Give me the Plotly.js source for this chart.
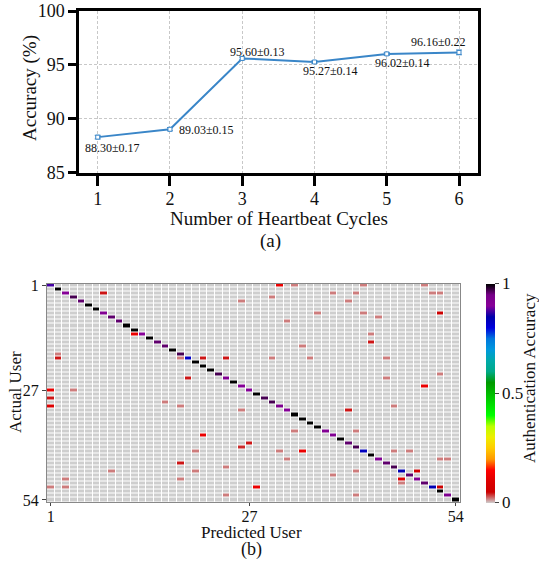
<!DOCTYPE html>
<html><head><meta charset="utf-8">
<script src="https://cdn.plot.ly/plotly-3.0.1.min.js"></script>
<style>html,body{margin:0;padding:0;background:#fff}#chart{width:539px;height:567px}</style>
</head><body><div id="chart"></div>
<script>
// ---- (a) accuracy vs number of heartbeat cycles ----
const cycles = [1, 2, 3, 4, 5, 6];
const accuracy = [88.30, 89.03, 95.60, 95.27, 96.02, 96.16];
const accStd = [0.17, 0.15, 0.13, 0.14, 0.14, 0.22];
const accTicks = [85, 90, 95, 100];

// ---- (b) authentication matrix (54 users) ----
const userCount = 54;
const userTicks = [1, 27, 54];
const diagAcc = [
  0.875, 1, 0.91, 0.97, 0.96, 1, 1, 0.92, 0.96, 0.96,
  1, 1, 0.90, 1, 0.96, 0.96, 1, 0.97, 0.82, 1,
  1, 1, 0.97, 0.92, 1, 0.91, 0.91, 1, 0.97, 0.97,
  0.93, 0.91, 1, 1, 1, 1, 0.92, 0.92, 1, 0.96,
  0.97, 0.83, 1, 0.92, 0.96, 0.97, 0.84, 0.96, 0.92, 0.96,
  0.84, 1, 0.93, 1
];
const offRows = [1,1,1,1, 3,3,3,3,3, 4, 5,5, 8,8,8, 9, 10, 13,13, 15, 16, 18,
  19,19,19,19,19,19,19, 23, 24,24, 26, 27,27, 29, 30, 31,31,31, 32,32, 37,37, 38, 40, 41,
  42,42,42,42,42, 44,44,44, 45, 46, 47,47,47,47, 48, 49,49,49, 50, 51,51,51,51, 53,53];
const offCols = [31,33,42,50, 8,38,41,51,52, 30, 26,40, 36,42,52, 44, 32, 12,43, 43, 34, 2,
  2,18,21,24,30,35,45, 52, 19,45, 50, 1,4, 1, 16, 1,18,46, 26,40, 33,41, 21, 27, 26,
  20,31,34,46,48, 32,52,53, 18, 24, 9,20,41,49, 38, 3,18,47, 47, 1,3,28,52, 24,41];
const offVals = [0.12,0.02,0.02,0.02, 0.045,0.02,0.02,0.02,0.02, 0.02, 0.02,0.02, 0.02,0.02,0.05, 0.02, 0.02, 0.12,0.02, 0.045, 0.02, 0.02,
  0.045,0.02,0.045,0.045,0.02,0.02,0.02, 0.02, 0.045,0.02, 0.12, 0.12,0.02, 0.045, 0.02, 0.1,0.02,0.02, 0.02,0.045, 0.02,0.02, 0.12, 0.045, 0.04,
  0.02,0.02,0.12,0.02,0.02, 0.02,0.02,0.02, 0.045, 0.02, 0.02,0.02,0.02,0.06, 0.02, 0.02,0.02,0.1, 0.02, 0.02,0.02,0.12,0.05, 0.02,0.02];
const cbTicks = [0, 0.5, 1];

// nipy_spectral (reversed) colour stops
const cmapStops = [0,0.05,0.1,0.15,0.2,0.25,0.3,0.35,0.4,0.45,0.5,0.55,0.6,0.65,0.7,0.75,0.8,0.85,0.9,0.95,1];
const cmapColors = ['rgb(206,206,206)','rgb(204,0,0)','rgb(221,0,0)','rgb(255,0,0)','rgb(255,153,0)','rgb(255,204,0)',
  'rgb(238,238,0)','rgb(187,255,0)','rgb(0,255,0)','rgb(0,221,0)','rgb(0,187,0)','rgb(0,153,0)','rgb(0,170,136)',
  'rgb(0,170,170)','rgb(0,153,221)','rgb(0,119,221)','rgb(0,0,221)','rgb(0,0,170)','rgb(136,0,153)','rgb(119,0,136)','rgb(0,0,0)'];

const users = Array.from({length: userCount}, (_, i) => i + 1);
const z = users.map(() => users.map(() => 0));
diagAcc.forEach((v, i) => { z[i][i] = v; });
offRows.forEach((r, k) => { z[r - 1][offCols[k] - 1] = offVals[k]; });

const FAM = 'Liberation Serif';
const blue = '#3a86c8';

const lineTrace = {
  type: 'scatter', mode: 'lines+markers', x: cycles, y: accuracy,
  xaxis: 'x', yaxis: 'y',
  line: {color: blue, width: 2},
  marker: {symbol: 'square', size: 4, color: '#ffffff', line: {color: blue, width: 1}},
  error_y: {type: 'data', array: accStd, visible: true, color: blue, thickness: 1, width: 3},
  showlegend: false, hoverinfo: 'x+y'
};

const heat = {
  type: 'heatmap', x: users, y: users, z: z, xaxis: 'x2', yaxis: 'y2',
  zmin: 0, zmax: 1, xgap: 1, ygap: 1,
  colorscale: cmapStops.map((s, i) => [s, cmapColors[i]]),
  colorbar: {
    x: 486/539, xanchor: 'left', y: 1 - 283.5/567, yanchor: 'top',
    len: (502 - 283.5)/567, lenmode: 'fraction', thickness: 9, thicknessmode: 'pixels',
    xpad: 0, ypad: 0, outlinewidth: 0,
    tickvals: cbTicks, ticktext: cbTicks.map(String), ticks: 'outside', ticklen: 4, tickcolor: '#444',
    tickfont: {family: FAM, size: 17, color: '#111'}
  }
};

const labelShift = [[15, -11], [37, -1], [15, 6], [16, -9], [16, -9], [-21, 10]];
const dataLabels = cycles.map((c, i) => ({
  x: c, y: accuracy[i], xref: 'x', yref: 'y', showarrow: false,
  text: accuracy[i].toFixed(2) + '±' + accStd[i].toFixed(2),
  xshift: labelShift[i][0], yshift: labelShift[i][1],
  font: {family: FAM, size: 12, color: '#111'}
}));

function pAnn(text, px, py, size, angle) {
  return {text: text, x: px/539, y: 1 - py/567, xref: 'paper', yref: 'paper',
    xanchor: 'center', yanchor: 'middle', showarrow: false, textangle: angle || 0,
    borderpad: 0, font: {family: FAM, size: size, color: '#111'}};
}

const layout = {
  width: 539, height: 567, margin: {l: 0, r: 0, t: 0, b: 0},
  paper_bgcolor: '#fff', plot_bgcolor: '#fff',
  font: {family: FAM, color: '#111'},
  xaxis: {domain: [79.3/539, 478.3/539], anchor: 'y', range: [0.745, 6.267],
    tickvals: cycles, ticks: 'outside', ticklen: 10, tickwidth: 3, tickcolor: '#000',
    ticklabelstandoff: -2,
    showline: true, linewidth: 3, linecolor: '#000', mirror: true, zeroline: false,
    showgrid: true, gridcolor: '#c8c8c8', griddash: '3px,2px', gridwidth: 1,
    tickfont: {family: FAM, size: 18, color: '#111'}},
  yaxis: {domain: [1 - 172.7/567, 1 - 11/567], anchor: 'x', range: [85, 100],
    tickvals: accTicks, ticks: 'outside', ticklen: 8, tickwidth: 3, tickcolor: '#000',
    showline: true, linewidth: 3, linecolor: '#000', mirror: true, zeroline: false,
    showgrid: true, gridcolor: '#c8c8c8', griddash: '3px,2px', gridwidth: 1,
    tickfont: {family: FAM, size: 18, color: '#111'}},
  xaxis2: {domain: [47/539, 459.5/539], anchor: 'y2', range: [0.5, 54.5],
    tickvals: userTicks, ticks: 'outside', ticklen: 3, tickcolor: '#444',
    ticklabelstandoff: -3,
    showline: true, linewidth: 1, linecolor: '#888', mirror: true, zeroline: false, showgrid: false,
    tickfont: {family: FAM, size: 16, color: '#111'}},
  yaxis2: {domain: [1 - 502/567, 1 - 283.5/567], anchor: 'x2', range: [54.5, 0.5],
    tickvals: userTicks, ticks: 'outside', ticklen: 4, tickcolor: '#444',
    showline: true, linewidth: 1, linecolor: '#888', mirror: true, zeroline: false, showgrid: false,
    tickfont: {family: FAM, size: 16, color: '#111'}},
  annotations: dataLabels.concat([
    pAnn('Accuracy (%)', 30, 88, 19, -90),
    pAnn('Number of Heartbeat Cycles', 279, 218, 19),
    pAnn('(a)', 270, 241, 19),
    pAnn('Actual User', 15, 392, 17, -90),
    pAnn('Predicted User', 251, 532, 17),
    pAnn('(b)', 251, 549, 18),
    pAnn('Authentication Accuracy', 529, 378, 17, -90)
  ])
};

Plotly.newPlot('chart', [lineTrace, heat], layout, {displayModeBar: false});
</script>
</body></html>
